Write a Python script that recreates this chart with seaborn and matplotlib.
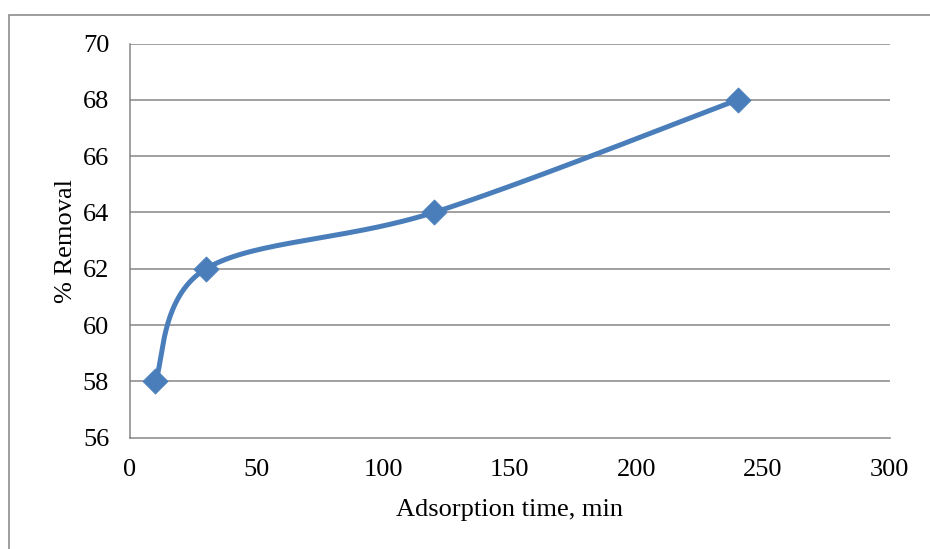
import numpy as np
import pandas as pd
import seaborn as sns
import matplotlib
matplotlib.use("Agg")
import matplotlib.pyplot as plt
from matplotlib.patches import Rectangle

# Data
time_min = [10, 30, 120, 240]
removal_pct = [58, 62, 64, 68]
x_ticks = [0, 50, 100, 150, 200, 250, 300]
y_ticks = [56, 58, 60, 62, 64, 66, 68, 70]
x_label = "Adsorption time, min"
y_label = "% Removal"

sns.set_theme(style="white")
plt.rcParams['font.family'] = ['Liberation Serif', 'DejaVu Serif']

# Excel-style smoothed line (cubic Bezier through the data points)
def smooth_curve(xs, ys, n=80):
    P = np.column_stack([xs, ys]).astype(float)
    m = len(P)
    out = []
    for i in range(m - 1):
        p0 = P[i - 1] if i > 0 else P[i]
        p1 = P[i]
        p2 = P[i + 1]
        p3 = P[i + 2] if i + 2 < m else P[i + 1]
        c1 = p1 + (p2 - p0) / 6.0
        c2 = p2 - (p3 - p1) / 6.0
        t = np.linspace(0, 1, n)[:, None]
        seg = ((1 - t) ** 3) * p1 + 3 * ((1 - t) ** 2) * t * c1 + 3 * (1 - t) * t ** 2 * c2 + t ** 3 * p2
        out.append(seg if i == 0 else seg[1:])
    arr = np.vstack(out)
    return arr[:, 0], arr[:, 1]

sx, sy = smooth_curve(time_min, removal_pct)
df_smooth = pd.DataFrame({"x": sx, "y": sy})
df_pts = pd.DataFrame({"x": time_min, "y": removal_pct})

fig = plt.figure(figsize=(9.3, 5.49), dpi=100)
ax = fig.add_axes([130 / 930, 1 - 437.7 / 549, (889.7 - 130) / 930, (437.7 - 43.5) / 549])

grid_c = "#868686"
line_c = "#4A7EBB"

ax.set_xlim(0, 300)
ax.set_ylim(56, 70)
ax.set_xticks(x_ticks)
ax.set_yticks(y_ticks)
for yv in y_ticks[1:]:
    ax.axhline(yv, color=grid_c, lw=1.1, zorder=1)

sns.lineplot(data=df_smooth, x="x", y="y", sort=False, estimator=None, ax=ax,
             color=line_c, lw=3.6, zorder=3, solid_capstyle="round")
sns.scatterplot(data=df_pts, x="x", y="y", ax=ax, marker="D", s=165,
                color=line_c, edgecolor=line_c, linewidth=0.5, zorder=4)

for side in ["top", "right"]:
    ax.spines[side].set_visible(False)
for side in ["left", "bottom"]:
    ax.spines[side].set_color(grid_c)
    ax.spines[side].set_linewidth(1.1)

ax.tick_params(axis="both", which="both", direction="out", length=6, width=1.1,
               color=grid_c, labelsize=19, labelcolor="black")
ax.tick_params(axis="x", pad=9)
ax.tick_params(axis="y", length=7, pad=8)
ax.set_xlabel(x_label, fontsize=19, color="black", labelpad=13)
ax.set_ylabel(y_label, fontsize=19, color="black", labelpad=4)

# chart area border
fig.patches.append(Rectangle((8.5 / 930, -0.1), 1.2, 1 - 14.5 / 549 + 0.1,
                             transform=fig.transFigure, fill=False,
                             edgecolor="#8c8c8c", lw=1.2, zorder=0))

fig.savefig("out.png", dpi=100)
